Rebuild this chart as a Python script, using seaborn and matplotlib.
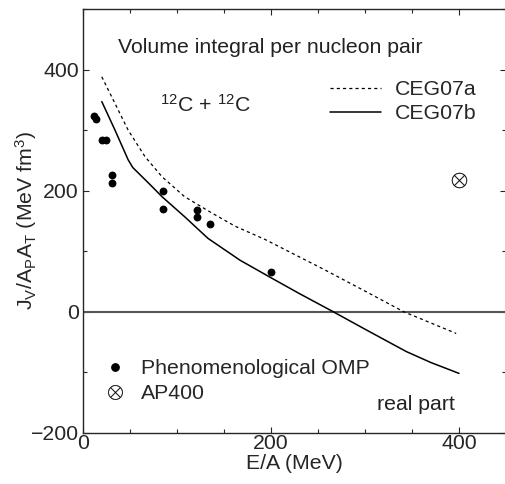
import matplotlib
matplotlib.use('Agg')
import matplotlib.pyplot as plt
import seaborn as sns
from matplotlib.lines import Line2D

sns.set_style('ticks')
plt.rcParams['font.family'] = ['Liberation Sans', 'DejaVu Sans']
plt.rcParams['mathtext.fontset'] = 'custom'
plt.rcParams['mathtext.rm'] = 'Liberation Sans'
plt.rcParams['mathtext.it'] = 'Liberation Sans:italic'

# phenomenological OMP points
e_omp = [12, 14, 20, 24, 30.5, 30.5, 85, 85, 121, 121, 135, 200]
j_omp = [324, 318, 284, 284, 226, 212, 199, 170, 168, 156, 145, 66]

# AP400
e_ap = [400]
j_ap = [218]

# CEG07a (dashed)
e_a = [20, 34, 48, 66, 84, 108, 137, 162, 194, 256, 300, 341, 397]
j_a = [388, 344, 300, 256, 223, 190, 163, 141, 119, 70, 34, 0, -36]

# CEG07b (solid)
e_b = [20, 34, 48, 53, 70, 84, 108, 133, 167, 200, 230, 266, 300, 344, 370, 400]
j_b = [347, 300, 251, 238, 212, 190, 157, 121, 85, 56, 30, 0, -29, -66, -84, -102]

fs = 15.3
fig = plt.figure(figsize=(5.05, 4.84), dpi=100)
ax = fig.add_axes([83/505, 51.3/484, 423/505, 423.7/484])

ax.axhline(0, color='#555555', lw=1.5, zorder=1)
sns.lineplot(x=e_a, y=j_a, ax=ax, color='black', lw=0.9, linestyle=(0, (2.5, 2.5)), sort=False)
sns.lineplot(x=e_b, y=j_b, ax=ax, color='black', lw=1.1, sort=False)
sns.scatterplot(x=e_omp, y=j_omp, ax=ax, color='black', s=32, linewidth=0, zorder=3)
sns.scatterplot(x=e_ap, y=j_ap, ax=ax, marker='$\\otimes$', color='black', edgecolor='black',
                s=120, linewidth=0.2, zorder=3)

ax.set_xlim(0, 450)
ax.set_ylim(-200, 500)
ax.set_xticks([0, 200, 400])
ax.set_xticks([50, 100, 150, 250, 300, 350, 450], minor=True)
ax.set_yticks([-200, 0, 200, 400])
ax.set_yticks([-100, 100, 300, 500], minor=True)
ax.set_yticklabels(['\u2212200', '0', '200', '400'])
ax.tick_params(which='both', direction='in', top=True, right=True, labelsize=fs, pad=3, width=0.8)
ax.tick_params(which='major', length=4)
ax.tick_params(which='minor', length=3)
ax.tick_params(axis='x', pad=1)
for s in ax.spines.values():
    s.set_linewidth(1.0)

ax.set_xlabel('E/A (MeV)', fontsize=fs, labelpad=1)
ax.set_ylabel(r'J$_\mathrm{V}$/A$_\mathrm{P}$A$_\mathrm{T}$ (MeV fm$^3$)', fontsize=fs)
ax.yaxis.set_label_coords(-0.105, 0.5)

ax.text(37, 427, 'Volume integral per nucleon pair', fontsize=fs, va='baseline', color='#222222')
ax.text(82, 330, r'$^{12}$C + $^{12}$C', fontsize=fs, va='baseline', color='#222222')
ax.text(313, -162, 'real part', fontsize=fs, va='baseline', color='#222222')

# legends
h_lines = [Line2D([], [], color='black', lw=0.9, linestyle=(0, (2.5, 2.5))),
           Line2D([], [], color='black', lw=1.1)]
leg1 = ax.legend(h_lines, ['CEG07a', 'CEG07b'], loc='upper left', bbox_to_anchor=(0.583, 0.832),
                 frameon=False, fontsize=fs, handlelength=2.4, handletextpad=0.65,
                 labelspacing=0.25, borderpad=0, borderaxespad=0)
ax.add_artist(leg1)
h_pts = [Line2D([], [], color='black', marker='o', markersize=5.3, linestyle='none'),
         Line2D([], [], color='black', marker='$\\otimes$', markersize=10.5, markeredgewidth=0.2,
                linestyle='none')]
ax.legend(h_pts, ['Phenomenological OMP', 'AP400'], loc='upper left', bbox_to_anchor=(0.045, 0.174),
          frameon=False, fontsize=fs, handlelength=1.2, handletextpad=0.65,
          labelspacing=0.3, borderpad=0, borderaxespad=0)

fig.savefig('out.png', dpi=100)
